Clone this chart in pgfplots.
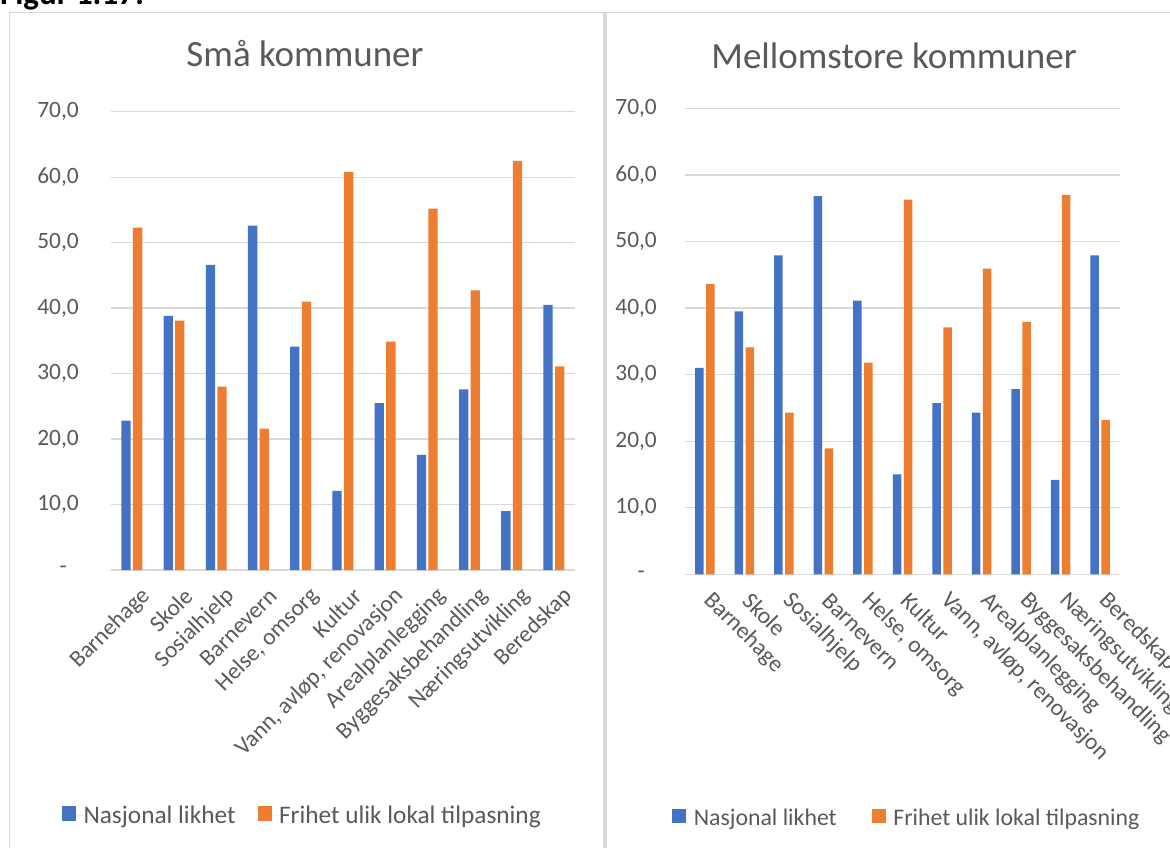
\documentclass[border=0pt]{standalone}
\usepackage{pgfplots}
\pgfplotsset{compat=1.18}
\usepackage{fontspec}
\setmainfont{Carlito}
\definecolor{cblue}{HTML}{4472C4}
\definecolor{corange}{HTML}{ED7D31}
\definecolor{cgrid}{HTML}{D9D9D9}
\definecolor{ctext}{HTML}{595959}

\pgfplotsset{
  panel/.style={
    scale only axis,
    ymin=0, ymax=70, xmin=-0.5, xmax=10.5,
    ytick={0,10,...,70},
    yticklabels={{-\hspace*{12pt}},{10,0},{20,0},{30,0},{40,0},{50,0},{60,0},{70,0}},
    ymajorgrids,
    grid style={cgrid, line width=1.3pt},
    axis line style={draw=none},
    major tick length=0pt,
    xtick={0,...,10},
    xticklabels={Barnehage,Skole,Sosialhjelp,Barnevern,{Helse, omsorg},Kultur,{Vann, avløp, renovasjon},Arealplanlegging,Byggesaksbehandling,Næringsutvikling,Beredskap},
    ticklabel style={font=\fontsize{23.4}{26}\selectfont, text=ctext},
    yticklabel style={anchor=east, inner sep=0pt},
    legend columns=2,
    legend cell align=left,
  },
  sqblue/.style={legend image code/.code={\fill[cblue] (0pt,-5pt) rectangle (14pt,9.7pt); \path (0pt,0pt) -- (21.6pt,0pt);}},
  sqorange/.style={legend image code/.code={\fill[corange] (0pt,-5pt) rectangle (14pt,9.7pt); \path (0pt,0pt) -- (21.6pt,0pt);}},
}

\begin{document}
\begin{tikzpicture}
\path[use as bounding box] (0pt,0pt) rectangle (1170pt,847pt);
\clip (0pt,0pt) rectangle (1170pt,847pt);

% panel borders
\draw[cgrid, line width=1.4pt] (9.3pt,-5pt) -- (9.3pt,834.3pt) -- (604pt,834.3pt) -- (604pt,-5pt);
\draw[cgrid, line width=1.4pt] (606pt,-5pt) -- (606pt,834.3pt) -- (1200pt,834.3pt);

% figure caption (cut off at top)
\node[anchor=base west, inner sep=0pt, font=\bfseries\fontsize{33}{36}\selectfont] at (0pt,842pt) {Figur 1.17:};

% titles
\node[anchor=base, inner sep=0pt, text=ctext, font=\fontsize{37}{40}\selectfont] at (305pt,780.3pt) {Små kommuner};
\node[anchor=base, inner sep=0pt, text=ctext, font=\fontsize{37}{40}\selectfont] at (894pt,778.7pt) {Mellomstore kommuner};

% left chart
\begin{axis}[panel,
  at={(110.7pt,277pt)}, anchor=south west,
  width=464.3pt, height=458.3pt,
  ybar=2.3pt, bar width=9.3pt,
  yticklabel style={xshift=-31.7pt},
  xticklabel style={xshift=17pt, yshift=-20pt, rotate=45, anchor=east},
  legend style={draw=none, fill=none, inner sep=0pt, nodes={inner sep=0pt}, at={(-0.1055,-0.536)}, anchor=west,
    font=\fontsize{25.3}{28}\selectfont, text=ctext,
    /tikz/every even column/.append style={column sep=22pt}},
]
\addplot[fill=cblue, draw=none, sqblue] coordinates {(0,22.8) (1,38.8) (2,46.6) (3,52.6) (4,34.1) (5,12.1) (6,25.5) (7,17.6) (8,27.6) (9,9.0) (10,40.5)};
\addplot[fill=corange, draw=none, sqorange] coordinates {(0,52.3) (1,38.1) (2,28.0) (3,21.6) (4,41.0) (5,60.8) (6,34.9) (7,55.2) (8,42.7) (9,62.5) (10,31.1)};
\legend{Nasjonal likhet, Frihet ulik lokal tilpasning}
\end{axis}

% right chart
\begin{axis}[panel,
  at={(685pt,272.7pt)}, anchor=south west,
  width=435pt, height=466pt,
  ybar=2.5pt, bar width=8.5pt,
  yticklabel style={xshift=-28pt},
  xticklabel style={yshift=-20pt, rotate=-45, anchor=west},
  legend style={draw=none, fill=none, inner sep=0pt, nodes={inner sep=0pt}, at={(-0.030,-0.523)}, anchor=west,
    font=\fontsize{23.8}{26}\selectfont, text=ctext,
    /tikz/every even column/.append style={column sep=35pt}},
]
\addplot[fill=cblue, draw=none, sqblue] coordinates {(0,31.0) (1,39.5) (2,47.9) (3,56.8) (4,41.1) (5,15.0) (6,25.7) (7,24.3) (8,27.8) (9,14.2) (10,47.9)};
\addplot[fill=corange, draw=none, sqorange] coordinates {(0,43.6) (1,34.1) (2,24.3) (3,18.9) (4,31.8) (5,56.3) (6,37.1) (7,45.9) (8,37.9) (9,57.0) (10,23.2)};
\legend{Nasjonal likhet, Frihet ulik lokal tilpasning}
\end{axis}
\end{tikzpicture}
\end{document}
